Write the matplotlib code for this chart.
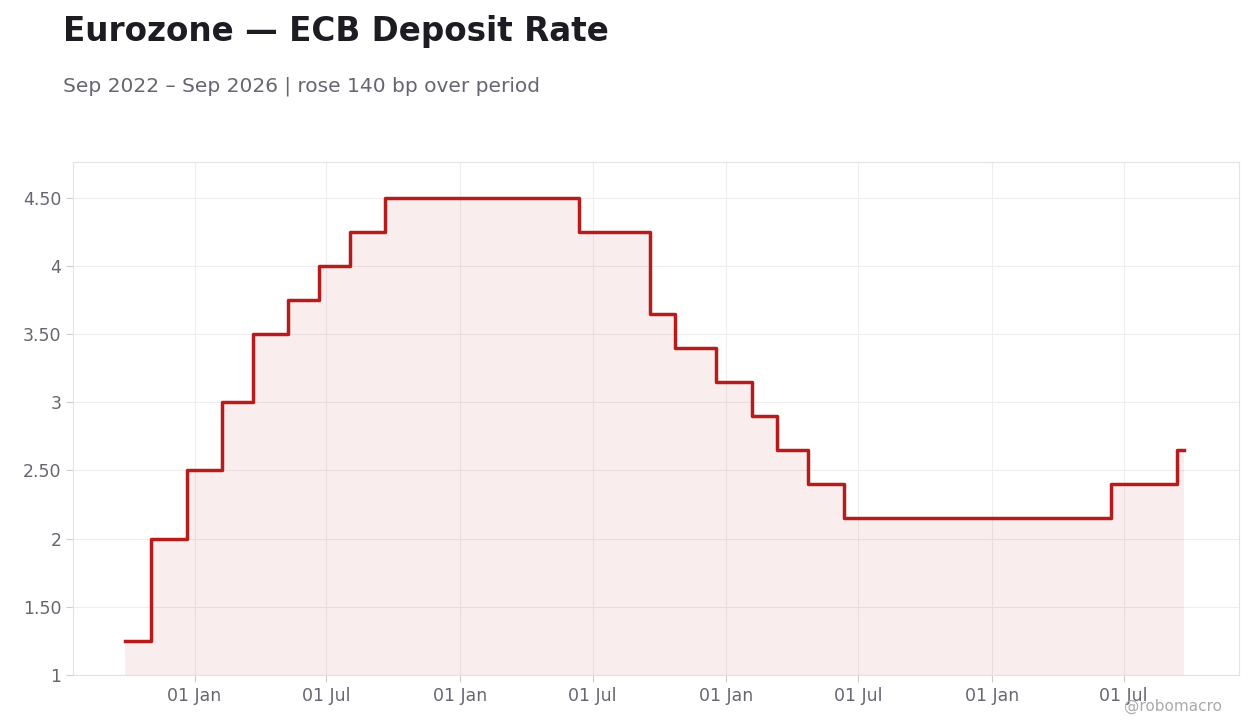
import matplotlib
matplotlib.use("Agg")
from matplotlib import pyplot as plt
import matplotlib.dates as mdates
import pandas as pd

# dates of rate changes and the rate after each change
change_dates = ["2022-09-28", "2022-11-02", "2022-12-21", "2023-02-08", "2023-03-22",
                "2023-05-10", "2023-06-21", "2023-08-02", "2023-09-20", "2024-06-12",
                "2024-09-18", "2024-10-23", "2024-12-18", "2025-02-05", "2025-03-12",
                "2025-04-23", "2025-06-11", "2026-06-13", "2026-09-12", "2026-09-22"]
rates = [1.25, 2.00, 2.50, 3.00, 3.50, 3.75, 4.00, 4.25, 4.50, 4.25,
         3.65, 3.40, 3.15, 2.90, 2.65, 2.40, 2.15, 2.40, 2.65, 2.65]
yticks = [1, 1.5, 2, 2.5, 3, 3.5, 4, 4.5]
ytick_labels = ["1", "1.50", "2", "2.50", "3", "3.50", "4", "4.50"]

x = pd.to_datetime(change_dates)
red = "#b71c1c"

fig = plt.figure(figsize=(12.6, 7.28), dpi=100)
ax = fig.add_axes([0.058, 0.073, 0.925, 0.704])

ax.step(x, rates, where="post", color=red, lw=2.5, zorder=3)
ax.fill_between(x, rates, 1, step="post", color=red, alpha=0.08, lw=0)

ax.set_xlim(pd.Timestamp("2022-07-18"), pd.Timestamp("2026-12-06"))
ax.set_ylim(1, 4.76)
ax.set_yticks(yticks)
ax.set_yticklabels(ytick_labels)
ax.xaxis.set_major_locator(mdates.MonthLocator(bymonth=[1, 7]))
ax.xaxis.set_major_formatter(mdates.DateFormatter("%d %b"))

ax.grid(True, color="#eeeeee", lw=0.8)
ax.set_axisbelow(True)
for s in ax.spines.values():
    s.set_color("#e3e3e3")
ax.tick_params(colors="#cccccc", labelcolor="#666670", labelsize=12.5, length=5)

fig.text(0.05, 0.943, "Eurozone — ECB Deposit Rate", fontsize=23.5, fontweight="bold", color="#1c1c22")
fig.text(0.05, 0.874, "Sep 2022 – Sep 2026 | rose 140 bp over period", fontsize=14.5, color="#666670")
fig.text(0.97, 0.023, "@robomacro", fontsize=11, color="#aaaaaa", ha="right")

fig.savefig("out.png", dpi=100)
